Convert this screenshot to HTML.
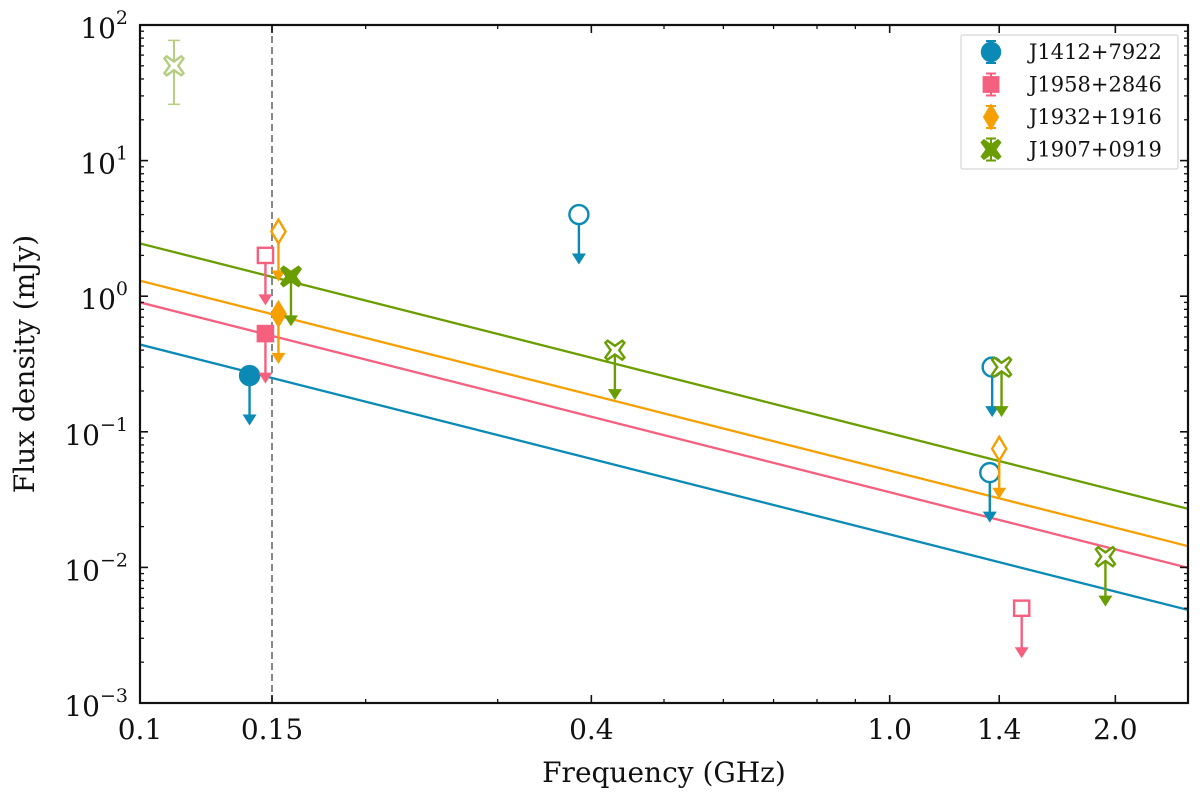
<!DOCTYPE html>
<html><head><meta charset="utf-8"><style>
body{margin:0;background:#fff}
svg text{font-family:"DejaVu Serif","Liberation Serif",serif;fill:#111}
</style></head><body>
<svg id="chart" width="1200" height="800" xmlns="http://www.w3.org/2000/svg"></svg>
<script>
const xTicks=[0.1,0.15,0.4,1.0,1.4,2.0];
const xTickLabels=["0.1","0.15","0.4","1.0","1.4","2.0"];
const yTickExps=[-3,-2,-1,0,1,2];
const seriesNames=["J1412+7922","J1958+2846","J1932+1916","J1907+0919"];
const seriesColors=["#0a8ab5","#f5607f","#f5a000","#6a9e00"];
const seriesMarkers=["circle","square","diamond","cross"];
const lineNorms=[0.44,0.9,1.3,2.45];
const lineIndex=-1.4;
const pFreq=[0.14,0.385,1.37,1.36, 0.147,0.147,1.5, 0.153,0.153,1.4, 0.159,0.43,1.41,1.94];
const pFlux=[0.26,4,0.3,0.05, 2,0.53,0.005, 3,0.74,0.075, 1.4,0.4,0.3,0.012];
const pSeries=[0,0,0,0, 1,1,1, 2,2,2, 3,3,3,3];
const pFilled=[1,0,0,0, 0,1,0, 0,1,0, 1,0,0,0];
const detFreq=[0.111], detFlux=[50], detLo=[26], detHi=[77];

const X0=140,X1=1188,Y0=25,Y1=703;
const lx0=-1, lx1=Math.log10(2.5), ly0=-3, ly1=2;
const xs=f=>X0+(Math.log10(f)-lx0)/(lx1-lx0)*(X1-X0);
const ys=v=>Y1-(Math.log10(v)-ly0)/(ly1-ly0)*(Y1-Y0);
const svg=document.getElementById('chart');
const NS="http://www.w3.org/2000/svg";
function mk(tag,attrs,parent){const e=document.createElementNS(NS,tag);for(const k in attrs)e.setAttribute(k,attrs[k]);(parent||svg).appendChild(e);return e;}

const clip=mk('clipPath',{id:'pc'});mk('rect',{x:X0,y:Y0,width:X1-X0,height:Y1-Y0},clip);
const plot=mk('g',{'clip-path':'url(#pc)'});



const dl=mk('line',{x1:xs(0.15),x2:xs(0.15),y1:Y0,y2:Y1,stroke:'#888','stroke-width':2,'stroke-dasharray':'7,4'},plot);



lineNorms.forEach((n,i)=>{
  const fa=0.1,fb=2.5;
  const l=mk('line',{x1:xs(fa),y1:ys(n),x2:xs(fb),y2:ys(n*Math.pow(fb/fa,lineIndex)),stroke:seriesColors[i],'stroke-width':2.3},plot);
  
  
});

function marker(type,cx,cy,color,filled,parent,s){
  s=s||9.5;
  const fill=filled?color:'#fff';const sw=2.4;
  let e;
  if(type==='circle')e=mk('circle',{cx,cy,r:s,fill,stroke:color,'stroke-width':sw},parent);
  else if(type==='square')e=mk('rect',{x:cx-s*0.8,y:cy-s*0.8,width:s*1.6,height:s*1.6,fill,stroke:color,'stroke-width':sw},parent);
  else if(type==='diamond')e=mk('path',{d:`M${cx},${cy-s*1.25}L${cx+s*0.75},${cy}L${cx},${cy+s*1.25}L${cx-s*0.75},${cy}Z`,fill,stroke:color,'stroke-width':sw},parent);
  else{const a=s*0.45,b=s*1.0;
    e=mk('path',{d:`M${cx-b+a*0.5},${cy-b}L${cx},${cy-a}L${cx+b-a*0.5},${cy-b}L${cx+b},${cy-b+a*0.5}L${cx+a},${cy}L${cx+b},${cy+b-a*0.5}L${cx+b-a*0.5},${cy+b}L${cx},${cy+a}L${cx-b+a*0.5},${cy+b}L${cx-b},${cy+b-a*0.5}L${cx-a},${cy}L${cx-b},${cy-b+a*0.5}Z`,fill,stroke:color,'stroke-width':sw},parent);}
  return e;
}

detFreq.forEach((f,i)=>{
  const g=mk('g',{opacity:0.5},plot);
  
  
  const cx=xs(f);
  mk('line',{x1:cx,x2:cx,y1:ys(detLo[i]),y2:ys(detHi[i]),stroke:seriesColors[3],'stroke-width':2},g);
  mk('line',{x1:cx-6,x2:cx+6,y1:ys(detLo[i]),y2:ys(detLo[i]),stroke:seriesColors[3],'stroke-width':1.5},g);
  mk('line',{x1:cx-6,x2:cx+6,y1:ys(detHi[i]),y2:ys(detHi[i]),stroke:seriesColors[3],'stroke-width':1.5},g);
  marker('cross',cx,ys(detFlux[i]),seriesColors[3],false,g);
});

pFreq.forEach((f,i)=>{
  const c=seriesColors[pSeries[i]];
  const g=mk('g',{},plot);
  
  
  const cx=xs(f),cy=ys(pFlux[i]),ty=cy+50;
  mk('line',{x1:cx,x2:cx,y1:cy,y2:ty-8,stroke:c,'stroke-width':2.4},g);
  mk('path',{d:`M${cx-7},${ty-11}L${cx+7},${ty-11}L${cx},${ty}Z`,fill:c},g);
  marker(seriesMarkers[pSeries[i]],cx,cy,c,pFilled[i],g);
});

const ax=mk('g',{});


mk('rect',{x:X0,y:Y0,width:X1-X0,height:Y1-Y0,fill:'none',stroke:'#111','stroke-width':2.2},ax);
const minorX=[0.2,0.3,0.5,0.6,0.7,0.8,0.9];
minorX.forEach(f=>{const x=xs(f);mk('line',{x1:x,x2:x,y1:Y1,y2:Y1-4,stroke:'#111','stroke-width':1.3},ax);mk('line',{x1:x,x2:x,y1:Y0,y2:Y0+4,stroke:'#111','stroke-width':1.3},ax);});
xTicks.forEach((f,i)=>{const x=xs(f);
  mk('line',{x1:x,x2:x,y1:Y1,y2:Y1-8,stroke:'#111','stroke-width':1.6},ax);
  mk('line',{x1:x,x2:x,y1:Y0,y2:Y0+8,stroke:'#111','stroke-width':1.6},ax);
  const t=mk('text',{x:x,y:739,'text-anchor':'middle','font-size':28},ax);t.textContent=xTickLabels[i];
  
  
});
yTickExps.forEach(e=>{
  const y=ys(Math.pow(10,e));
  mk('line',{x1:X0,x2:X0+8,y1:y,y2:y,stroke:'#111','stroke-width':1.6},ax);
  mk('line',{x1:X1,x2:X1-8,y1:y,y2:y,stroke:'#111','stroke-width':1.6},ax);
  if(e<2)for(let m=2;m<10;m++){const ym=ys(m*Math.pow(10,e));
    mk('line',{x1:X0,x2:X0+4,y1:ym,y2:ym,stroke:'#111','stroke-width':1.3},ax);
    mk('line',{x1:X1,x2:X1-4,y1:ym,y2:ym,stroke:'#111','stroke-width':1.3},ax);}
  const t=mk('text',{x:X0-12,y:y+13,'text-anchor':'end','font-size':28},ax);
  
  
  const a=mk('tspan',{},t);a.textContent='10';
  const b=mk('tspan',{dy:-14,'font-size':19},t);b.textContent=String(e).replace('-','−');
});
const xl=mk('text',{x:(X0+X1)/2,y:782,'text-anchor':'middle','font-size':28},ax);xl.textContent='Frequency (GHz)';


const yl=mk('text',{x:0,y:0,'text-anchor':'middle','font-size':28,transform:`translate(34,${(Y0+Y1)/2}) rotate(-90)`},ax);yl.textContent='Flux density (mJy)';



const lg=mk('g',{});


mk('rect',{x:961,y:35,width:217,height:134,fill:'#fff',stroke:'#ddd','stroke-width':1.5,rx:2},lg);
seriesNames.forEach((n,i)=>{
  const y=52+i*32.5,c=seriesColors[i];
  const e=mk('g',{},lg);
  
  
  mk('line',{x1:991,x2:991,y1:y-11,y2:y+11,stroke:c,'stroke-width':2},e);
  mk('line',{x1:986,x2:996,y1:y-11,y2:y-11,stroke:c,'stroke-width':2},e);
  mk('line',{x1:986,x2:996,y1:y+11,y2:y+11,stroke:c,'stroke-width':2},e);
  marker(seriesMarkers[i],991,y,c,true,e,9);
  const t=mk('text',{x:1029,y:y+7,'font-size':21},e);t.textContent=n;
});
</script>
</body></html>
